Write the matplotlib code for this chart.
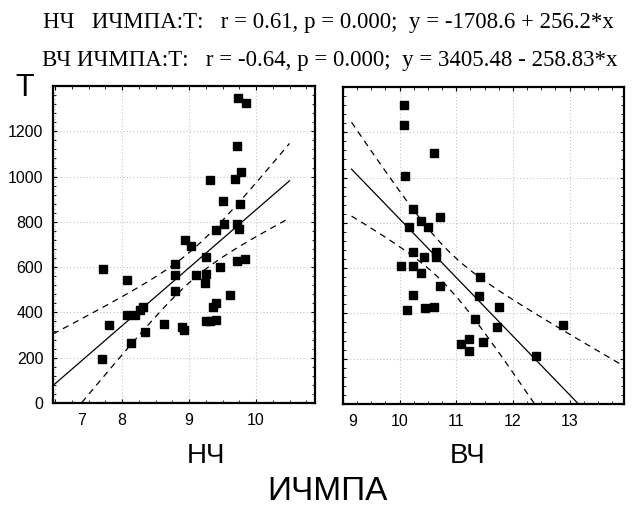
import numpy as np
import matplotlib
matplotlib.use('Agg')
import matplotlib.pyplot as plt
from matplotlib.ticker import MultipleLocator
from matplotlib.transforms import ScaledTranslation

# НЧ panel: ИЧМПА vs T
lf_x = [9.73, 9.85, 9.71, 9.77, 9.69, 9.31, 9.51, 9.76, 9.52, 9.41, 9.72, 9.75,
        8.94, 9.03, 8.79, 9.25, 7.72, 9.46, 9.72, 9.84, 8.08, 8.79, 9.11, 9.25,
        9.24, 8.79, 9.61, 9.40, 9.36, 9.25, 9.32, 9.40, 8.07, 8.19, 8.27, 8.32,
        7.81, 8.62, 8.89, 8.93, 8.34, 8.13, 7.70]
lf_y = [1349, 1326, 1134, 1020, 988, 984, 892, 881, 790, 766, 790, 770,
        719, 694, 613, 645, 592, 601, 626, 634, 543, 565, 565, 569,
        528, 495, 476, 440, 425, 360, 362, 365, 388, 388, 410, 422,
        344, 348, 337, 322, 315, 263, 193]

# ВЧ panel
hf_x = [10.08, 10.08, 10.61, 10.10, 10.24, 10.71, 10.38, 10.50, 10.16, 10.24,
        10.43, 10.65, 10.65, 10.02, 10.24, 10.38, 11.42, 10.71, 10.24, 11.40,
        11.76, 10.13, 10.45, 10.61, 11.33, 11.71, 12.88, 11.08, 11.22, 11.47,
        11.22, 12.41]
hf_y = [1321, 1231, 1108, 1006, 861, 824, 809, 780, 780, 670,
        651, 670, 648, 611, 611, 580, 559, 523, 483, 479,
        430, 417, 423, 430, 376, 339, 351, 266, 285, 276,
        233, 210]

# regression coefficients from the header
lf_coef = [-1708.6, 256.2]
hf_coef = [3405.48, -258.83]
lf_range = [6.97, 10.5]
hf_range = [9.15, 13.92]
t_crit = 2.02

header1 = 'НЧ   ИЧМПА:Т:   r = 0.61, p = 0.000;  y = -1708.6 + 256.2*x'
header2 = 'ВЧ ИЧМПА:Т:   r = -0.64, p = 0.000;  y = 3405.48 - 258.83*x'

plt.rcParams['font.family'] = ['Liberation Sans', 'DejaVu Sans']

fig = plt.figure(figsize=(6.33, 5.09), dpi=100)
ax1 = fig.add_axes([53/633, 1-403/509, 262/633, 317/509])
ax2 = fig.add_axes([343/633, 1-404/509, 281/633, 317/509])


def draw_panel(ax, xs, ys, coef, xr):
    xs = np.array(xs, dtype=float)
    ys = np.array(ys, dtype=float)
    n = len(xs)
    res = ys - (coef[0] + coef[1]*xs)
    s = np.sqrt(np.sum(res**2)/(n-2))
    sxx = np.sum((xs - xs.mean())**2)
    xx = np.linspace(xr[0], xr[1], 200)
    yy = coef[0] + coef[1]*xx
    hw = t_crit*s*np.sqrt(1.0/n + (xx - xs.mean())**2/sxx)
    ax.plot(xx, yy, color='black', lw=0.9)
    ax.plot(xx, yy + hw, color='black', lw=0.9, ls=(0, (5, 4)))
    ax.plot(xx, yy - hw, color='black', lw=0.9, ls=(0, (5, 4)))
    ax.plot(xs, ys, 's', color='black', ms=6, mec='black')
    ax.set_ylim(0, 1400)
    ax.yaxis.set_major_locator(MultipleLocator(200))
    ax.yaxis.set_minor_locator(MultipleLocator(40))
    ax.xaxis.set_minor_locator(MultipleLocator(0.25))
    ax.grid(True, which='major', color='#c4c4c4', ls=(0, (1, 2)), lw=0.8)
    ax.tick_params(which='both', direction='in', top=True, right=True,
                   labelsize=11.5, pad=7)
    ax.tick_params(which='major', length=3)
    ax.tick_params(which='minor', length=2)
    for sp in ax.spines.values():
        sp.set_linewidth(1.6)


draw_panel(ax1, lf_x, lf_y, lf_coef, lf_range)
ax1.set_xlim(6.97, 10.88)
ax1.set_xticks([7, 8, 9, 10])
ax1.set_yticks([0, 200, 400, 600, 800, 1000, 1200])

draw_panel(ax2, hf_x, hf_y, hf_coef, hf_range)
ax2.set_xlim(9.04, 13.96)
ax2.set_xticks([9, 10, 11, 12, 13])
ax2.set_yticks([0, 200, 400, 600, 800, 1000, 1200])
ax2.tick_params(labelleft=False)

# first x label in each panel sits a bit right of its tick
for ax, dx in [(ax1, 27), (ax2, 10)]:
    ax.figure.canvas.draw()
    lab = ax.xaxis.get_major_ticks()[0].label1
    lab.set_transform(lab.get_transform() + ScaledTranslation(dx/100, 0, fig.dpi_scale_trans))

fig.text(43/633, 1-28/509, header1, family=['Liberation Serif', 'DejaVu Serif'],
         fontsize=16.5, ha='left', va='baseline')
fig.text(42/633, 1-66/509, header2, family=['Liberation Serif', 'DejaVu Serif'],
         fontsize=16.5, ha='left', va='baseline')
fig.text(25/633, 1-88/509, 'T', fontsize=22, ha='center', va='center')
fig.text(206/633, 1-456/509, 'НЧ', fontsize=20, ha='center', va='center')
fig.text(468/633, 1-456/509, 'ВЧ', fontsize=20, ha='center', va='center')
fig.text(327/633, 1-500/509, 'ИЧМПА', fontsize=24, ha='center', va='baseline')

fig.savefig('out.png', dpi=100)
